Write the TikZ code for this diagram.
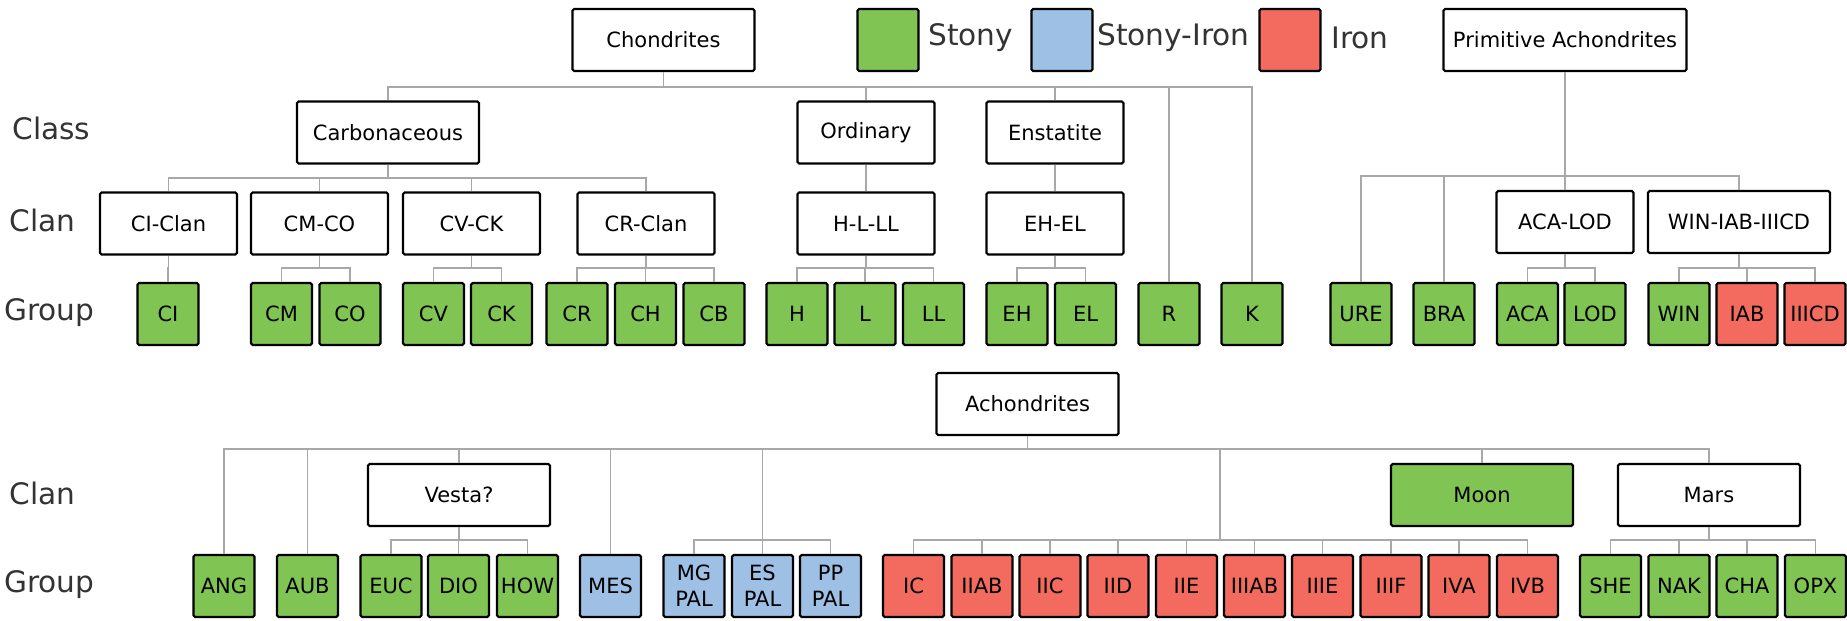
\documentclass[tikz,border=0pt]{standalone}
\usepackage{fontspec}
\setmainfont{DejaVu Sans}
\usepackage{xcolor}
\definecolor{stony}{HTML}{80C553}
\definecolor{stonyiron}{HTML}{9DC0E4}
\definecolor{iron}{HTML}{F26B5E}
\definecolor{linegray}{HTML}{A8A8A8}
\definecolor{textgray}{HTML}{333333}

\begin{document}
\begin{tikzpicture}[x=0.5pt, y=-0.5pt,
  nodebox/.style={draw, line width=1.1pt, rounded corners=0.8pt, fill=white, inner sep=0pt,
    minimum height=31pt, align=center, font=\fontsize{10.5}{13}\selectfont},
  grp/.style={nodebox, minimum width=30.5pt},
  clanbox/.style={nodebox, minimum width=68.5pt},
  widebox/.style={nodebox, minimum width=91pt},
  link/.style={draw=linegray, line width=0.7pt},
  rowlabel/.style={anchor=west, inner sep=0pt, text=textgray, font=\fontsize{14.8}{17}\selectfont}]
  \useasboundingbox (0,0) rectangle (1847,621);

  % row labels
  \node[rowlabel] (lclass) at (12,128) {Class};
  \node[rowlabel] (lclan) at (9,220) {Clan};
  \node[rowlabel] (lgroup) at (4,313) {Group};
  \node[rowlabel] (lclanb) at (9,493) {Clan};
  \node[rowlabel] (lgroupb) at (4,585) {Group};

  % legend
  \node[grp, fill=stony] (kstony) at (888,40) {};
  \node[rowlabel] (tstony) at (928,38) {Stony};
  \node[grp, fill=stonyiron] (kstonyiron) at (1062,40) {};
  \node[rowlabel] (tstonyiron) at (1097,38) {Stony-Iron};
  \node[grp, fill=iron] (kiron) at (1290,40) {};
  \node[rowlabel] (tiron) at (1331,38) {Iron};

  % chondrites
  \node[widebox] (chon) at (663.5,40) {Chondrites};
  \node[widebox] (carb) at (388,132.5) {Carbonaceous};
  \node[clanbox] (ord) at (866,132.5) {Ordinary};
  \node[clanbox] (ens) at (1055,132.5) {Enstatite};
  \node[clanbox] (ciclan) at (168.5,223.5) {CI-Clan};
  \node[clanbox] (cmco) at (319.5,223.5) {CM-CO};
  \node[clanbox] (cvck) at (471.5,223.5) {CV-CK};
  \node[clanbox] (crclan) at (646,223.5) {CR-Clan};
  \node[clanbox] (hlll) at (866,223.5) {H-L-LL};
  \node[clanbox] (ehel) at (1055,223.5) {EH-EL};

  % primitive achondrites
  \node[nodebox, minimum width=121.5pt] (prim) at (1565,40) {Primitive Achondrites};
  \node[clanbox] (acalod) at (1565,222) {ACA-LOD};
  \node[widebox] (wincd) at (1739,222) {WIN-IAB-IIICD};

  \foreach \n/\x in {CI/168, CM/281.5, CO/350, CV/433.5, CK/501.5, CR/577, CH/645.5, CB/714,
      H/797, L/865, LL/933.5, EH/1017, EL/1085.5, R/1169, K/1252,
      URE/1361, BRA/1444, ACA/1527.5, LOD/1595, WIN/1679}
    \node[grp, fill=stony] (g\n) at (\x,314) {\n};
  \foreach \n/\x in {IAB/1747, IIICD/1815}
    \node[grp, fill=iron] (g\n) at (\x,314) {\n};

  % achondrites
  \node[widebox] (ach) at (1027.5,404) {Achondrites};
  \node[widebox] (vesta) at (459,495) {Vesta?};
  \node[widebox, fill=stony] (moon) at (1482,495) {Moon};
  \node[widebox] (mars) at (1709,495) {Mars};

  \foreach \n/\x in {ANG/224, AUB/307.5, EUC/391, DIO/458.5, HOW/527.5,
      SHE/1610.5, NAK/1679, CHA/1747, OPX/1815.5}
    \node[grp, fill=stony] (g\n) at (\x,586) {\n};
  \node[grp, fill=stonyiron] (gMES) at (610.5,586) {MES};
  \node[grp, fill=stonyiron] (gMGPAL) at (694,586) {MG\\PAL};
  \node[grp, fill=stonyiron] (gESPAL) at (762.5,586) {ES\\PAL};
  \node[grp, fill=stonyiron] (gPPPAL) at (830.5,586) {PP\\PAL};
  \foreach \n/\x in {IC/913.5, IIAB/982, IIC/1050, IID/1118, IIE/1186.5,
      IIIAB/1254.5, IIIE/1322.5, IIIF/1391, IVA/1459, IVB/1527.5}
    \node[grp, fill=iron] (g\n) at (\x,586) {\n};

  % bus levels
  \coordinate (chonbus) at (0,87);
  \coordinate (carbbus) at (0,178);
  \coordinate (primbus) at (0,176);
  \coordinate (topsub) at (0,268);
  \coordinate (achbus) at (0,449);
  \coordinate (botsub) at (0,540);
  \coordinate (ironhub) at (1220,540);
  \coordinate (palhub) at (gESPAL.north |- botsub);

  % connectors, top
  \foreach \c in {carb, ord, ens, gR, gK}
    \draw[link] (chon.south) -- (chon.south |- chonbus) -| (\c.north);
  \foreach \c in {ciclan, cmco, cvck, crclan}
    \draw[link] (carb.south) -- (carb.south |- carbbus) -| (\c.north);
  \draw[link] (ord.south) -- (hlll.north);
  \draw[link] (ens.south) -- (ehel.north);
  \foreach \c in {gURE, gBRA, acalod, wincd}
    \draw[link] (prim.south) -- (prim.south |- primbus) -| (\c.north);
  \foreach \p/\c in {ciclan/gCI, cmco/gCM, cmco/gCO, cvck/gCV, cvck/gCK,
      crclan/gCR, crclan/gCH, crclan/gCB, hlll/gH, hlll/gL, hlll/gLL,
      ehel/gEH, ehel/gEL, acalod/gACA, acalod/gLOD,
      wincd/gWIN, wincd/gIAB, wincd/gIIICD}
    \draw[link] (\p.south) -- (\p.south |- topsub) -| (\c.north);

  % connectors, bottom
  \foreach \c in {gANG, gAUB, vesta, gMES, gESPAL, ironhub, moon, mars}
    \draw[link] (ach.south) -- (ach.south |- achbus) -| (\c.north);
  \foreach \c in {gMGPAL, gPPPAL}
    \draw[link] (palhub) -| (\c.north);
  \foreach \c in {gIC, gIIAB, gIIC, gIID, gIIE, gIIIAB, gIIIE, gIIIF, gIVA, gIVB}
    \draw[link] (ironhub) -| (\c.north);
  \foreach \p/\c in {vesta/gEUC, vesta/gDIO, vesta/gHOW,
      mars/gSHE, mars/gNAK, mars/gCHA, mars/gOPX}
    \draw[link] (\p.south) -- (\p.south |- botsub) -| (\c.north);
\end{tikzpicture}
\end{document}
